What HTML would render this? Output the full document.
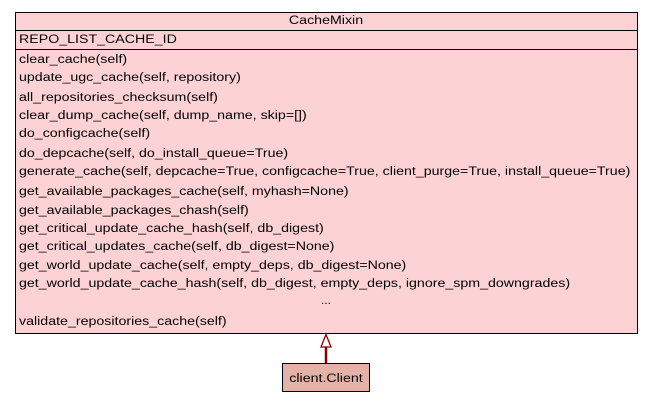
<!DOCTYPE html>
<html><head><style>body{margin:0;background:#fff}svg{display:block}text{font-family:"Liberation Sans",Arial,sans-serif;font-size:12.2px;fill:#000}</style></head>
<body>
<svg width="653" height="403" viewBox="0 0 653 403">
<rect x="15.5" y="12.5" width="622" height="321" fill="#fdd2d5" stroke="#000"/>
<line x1="15" y1="30.5" x2="637" y2="30.5" stroke="#000"/>
<line x1="15" y1="49.5" x2="637" y2="49.5" stroke="#000"/>
<g transform="translate(326,0) scale(1.165,1)"><text x="0" y="24" text-anchor="middle">CacheMixin</text></g>
<g transform="translate(19,0) scale(1.165,1)">
<text x="0" y="43">REPO_LIST_CACHE_ID</text>
<text x="0" y="63">clear_cache(self)</text>
<text x="0" y="81">update_ugc_cache(self, repository)</text>
<text x="0" y="101">all_repositories_checksum(self)</text>
<text x="0" y="119">clear_dump_cache(self, dump_name, skip=[])</text>
<text x="0" y="137">do_configcache(self)</text>
<text x="0" y="157">do_depcache(self, do_install_queue=True)</text>
<text x="0" y="175">generate_cache(self, depcache=True, configcache=True, client_purge=True, install_queue=True)</text>
<text x="0" y="195">get_available_packages_cache(self, myhash=None)</text>
<text x="0" y="214">get_available_packages_chash(self)</text>
<text x="0" y="232">get_critical_update_cache_hash(self, db_digest)</text>
<text x="0" y="250">get_critical_updates_cache(self, db_digest=None)</text>
<text x="0" y="269">get_world_update_cache(self, empty_deps, db_digest=None)</text>
<text x="0" y="287">get_world_update_cache_hash(self, db_digest, empty_deps, ignore_spm_downgrades)</text>
<text x="0" y="325">validate_repositories_cache(self)</text>
</g>
<text x="326" y="304" text-anchor="middle">...</text>
<line x1="326" y1="347" x2="326" y2="363" stroke="#8b0000" stroke-width="2.5"/>
<polygon points="326,334.5 321,347 331,347" fill="#fff" stroke="#8b0000" stroke-width="1.3"/>
<rect x="282.5" y="363.5" width="87" height="28" fill="#e4b2a6" stroke="#000"/>
<g transform="translate(326,0) scale(1.165,1)"><text x="0" y="382" text-anchor="middle">client.Client</text></g>
</svg>
</body></html>
